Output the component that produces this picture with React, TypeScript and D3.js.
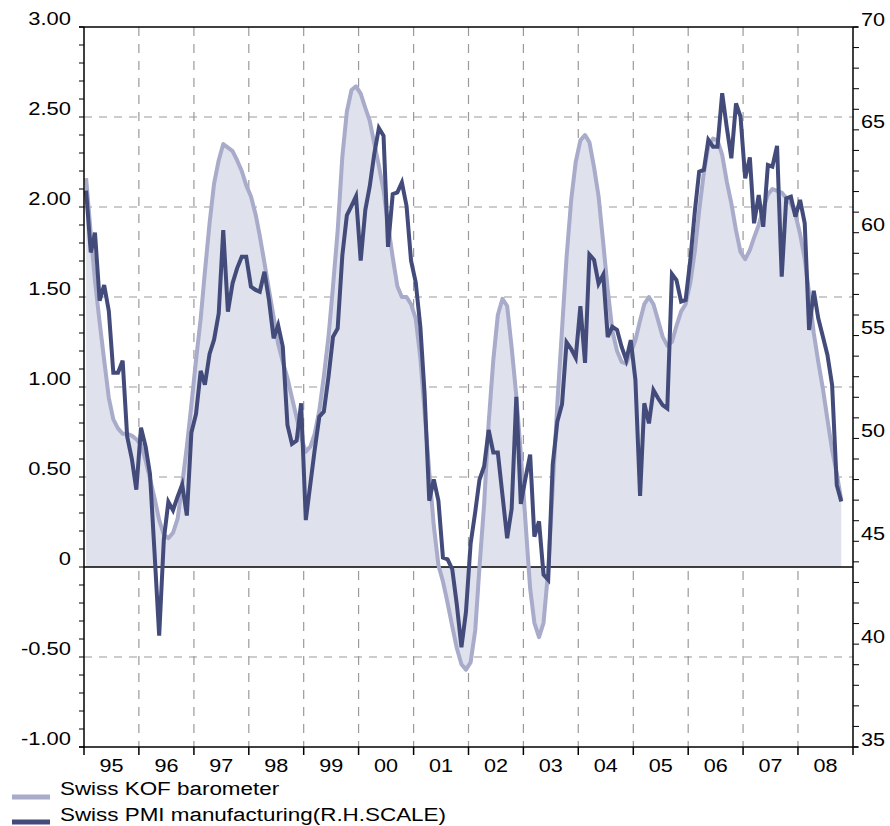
import React from "react";
import * as d3 from "d3";

// ---- data (monthly, starting January 1995) ----
const startYear = 1995;
const yearLabels = ["95","96","97","98","99","00","01","02","03","04","05","06","07","08"];

// Swiss KOF barometer (left scale)
const kof = [
  2.16,1.85,1.59,1.36,1.15,0.94,0.82,0.77,0.74,0.74,0.73,0.71, // 1995
  0.68,0.59,0.49,0.38,0.26,0.18,0.16,0.19,0.27,0.46,0.67,0.90, // 1996
  1.15,1.38,1.64,1.91,2.13,2.26,2.35,2.33,2.31,2.26,2.20,2.12, // 1997
  2.06,1.96,1.84,1.69,1.54,1.39,1.24,1.14,1.05,0.94,0.83,0.72, // 1998
  0.64,0.67,0.74,0.87,1.06,1.28,1.56,1.87,2.28,2.53,2.65,2.67, // 1999
  2.63,2.55,2.48,2.35,2.23,2.09,1.90,1.72,1.56,1.50,1.50,1.46, // 2000
  1.38,1.16,0.86,0.53,0.23,0.01,-0.08,-0.20,-0.33,-0.45,-0.54,-0.57, // 2001
  -0.53,-0.35,0.0,0.35,0.80,1.15,1.40,1.49,1.45,1.22,0.95,0.63, // 2002
  0.25,-0.12,-0.31,-0.39,-0.31,-0.02,0.44,0.91,1.32,1.72,2.04,2.25, // 2003
  2.37,2.40,2.36,2.22,2.06,1.80,1.54,1.31,1.20,1.14,1.13,1.19, // 2004
  1.26,1.37,1.46,1.50,1.46,1.37,1.28,1.23,1.25,1.34,1.42,1.46, // 2005
  1.58,1.76,1.98,2.19,2.34,2.38,2.37,2.29,2.14,2.02,1.87,1.75, // 2006
  1.71,1.76,1.83,1.90,1.99,2.07,2.10,2.09,2.08,2.05,2.02,1.96, // 2007
  1.85,1.71,1.52,1.30,1.14,0.99,0.82,0.65,0.52,0.37 // 2008
];

// Swiss PMI manufacturing (right scale)
const pmi = [
  62.05,59.04,60.0,56.70,57.45,56.20,53.19,53.19,53.78,50.10,49.01,47.51, // 1995
  50.52,49.60,48.26,44.33,40.41,45.09,46.92,46.51,47.18,47.76,46.25,50.27, // 1996
  51.19,53.28,52.61,54.11,54.80,56.08,60.13,56.16,57.54,58.27,58.83,58.83, // 1997
  57.38,57.22,57.13,58.10,56.73,54.87,55.51,54.46,50.65,49.73,49.89,51.71, // 1998
  46.03,47.82,49.44,51.06,51.30,53.00,54.94,55.35,58.90,60.84,61.30,61.77, // 1999
  58.64,61.11,62.25,63.86,65.09,64.71,59.31,61.87,61.96,62.44,61.30,58.64, // 2000
  57.59,55.41,52.18,46.97,48.01,46.97,44.21,44.12,43.64,41.94,39.85,41.56, // 2001
  44.88,46.44,47.99,48.65,50.41,49.32,49.32,47.24,45.15,46.58,52.02,46.82, // 2002
  48.07,49.21,45.22,45.97,43.38,43.13,48.73,50.83,51.66,54.67,54.34,53.92, // 2003
  56.43,53.67,58.94,58.68,57.52,57.96,54.93,55.43,55.27,54.46,53.81,54.78, // 2004
  52.84,47.20,51.71,50.73,52.35,51.95,51.62,51.46,57.99,57.70,56.65,56.73, // 2005
  58.67,61.10,62.97,63.05,64.51,64.18,64.18,66.78,65.10,63.62,66.29,65.64, // 2006
  62.64,63.66,60.46,61.83,60.29,63.29,63.21,64.22,57.86,61.67,61.75,60.78, // 2007
  61.59,60.46,55.27,57.18,55.84,54.94,54.06,52.60,47.74,46.93 // 2008
];

const leftTickValues = [-1, -0.5, 0, 0.5, 1, 1.5, 2, 2.5, 3];
const leftTickLabels = ["-1.00", "-0.50", "0", "0.50", "1.00", "1.50", "2.00", "2.50", "3.00"];
const rightTickValues = [35, 40, 45, 50, 55, 60, 65, 70];
const legendLabels = ["Swiss KOF barometer", "Swiss PMI manufacturing(R.H.SCALE)"];

// ---- styles ----
const KOF_LINE = "#a8abca";
const KOF_FILL = "#dfe1ec";
const PMI_LINE = "#434b7b";
const GRID = "#9a9a9a";
const FONT = "'Liberation Sans', Arial, Helvetica, sans-serif";

export default function App() {
  const W = 890, H = 826;
  const L = 84, R = 853, T = 27, B = 747;

  const x = d3.scaleTime()
    .domain([new Date(startYear, 0, 1), new Date(startYear + yearLabels.length, 0, 1)])
    .range([L, R]);
  const yL = d3.scaleLinear().domain([-1, 3]).range([B, T]);
  const yR = d3.scaleLinear().domain([35, 70]).range([B, T]);

  const dates = kof.map((_, i) => new Date(startYear, i, 15));
  const pmiDates = pmi.map((_, i) => new Date(startYear, i, 15));

  const area = d3.area<number>()
    .x((_, i) => x(dates[i]))
    .y0(yL(0))
    .y1((d) => yL(d));
  const kofLine = d3.line<number>().x((_, i) => x(dates[i])).y((d) => yL(d));
  const pmiLine = d3.line<number>().x((_, i) => x(pmiDates[i])).y((d) => yR(d));

  const yearStarts = yearLabels.map((_, i) => new Date(startYear + i, 0, 1));
  const minorLeft = d3.range(-10, 31).map((v) => v / 10);
  const minorRight = d3.range(35, 71);
  const hGrid = [2.5, 2, 1.5, 1, 0.5, -0.5];

  return (
    <svg width={W} height={H} style={{ position: "absolute", left: 0, top: 0, background: "#fff" }}
      fontFamily={FONT}>
      {/* vertical dashed grid */}
      {yearStarts.slice(1).map((d, i) => (
        <line key={"vg" + i} x1={x(d)} x2={x(d)} y1={T} y2={B}
          stroke={GRID} strokeWidth={1.2} strokeDasharray="9,8" />
      ))}
      {/* horizontal dashed grid */}
      {hGrid.map((v, i) => (
        <line key={"hg" + i} x1={L} x2={R} y1={yL(v)} y2={yL(v)}
          stroke={GRID} strokeWidth={1.2} strokeDasharray="8,7" />
      ))}

      {/* KOF area */}
      <path d={area(kof) || ""} fill={KOF_FILL} stroke="none" />

      {/* zero line */}
      <line x1={L} x2={R} y1={yL(0)} y2={yL(0)} stroke="#000" strokeWidth={1.3} />

      {/* KOF line */}
      <path d={kofLine(kof) || ""} fill="none" stroke={KOF_LINE} strokeWidth={4} strokeLinejoin="round" />
      {/* PMI line */}
      <path d={pmiLine(pmi) || ""} fill="none" stroke={PMI_LINE} strokeWidth={4} strokeLinejoin="miter" />

      {/* frame */}
      <line x1={L} x2={L} y1={T} y2={B} stroke="#000" strokeWidth={1.5} />
      <line x1={R} x2={R} y1={T} y2={B} stroke="#000" strokeWidth={1.5} />
      <line x1={L - 5} x2={R + 5} y1={T} y2={T} stroke="#000" strokeWidth={1.5} />
      <line x1={L - 5} x2={R + 5} y1={B} y2={B} stroke="#000" strokeWidth={1.5} />

      {/* left minor ticks */}
      {minorLeft.map((v, i) => (
        <line key={"lt" + i} x1={L - 5} x2={L} y1={yL(v)} y2={yL(v)} stroke="#000" strokeWidth={1} />
      ))}
      {/* right minor ticks */}
      {minorRight.map((v, i) => (
        <line key={"rt" + i} x1={R} x2={R + 6} y1={yR(v)} y2={yR(v)} stroke="#000" strokeWidth={1} />
      ))}
      {/* bottom year ticks */}
      {yearStarts.concat([new Date(startYear + yearLabels.length, 0, 1)]).map((d, i) => (
        <line key={"bt" + i} x1={x(d)} x2={x(d)} y1={B} y2={B + 8} stroke="#000" strokeWidth={1.5} />
      ))}

      {/* left labels */}
      {leftTickValues.map((v, i) => (
        <text key={"ll" + i} transform={`translate(71,${yL(v) - 2}) scale(1.22,1)`}
          textAnchor="end" fontSize={18} fill="#000">{leftTickLabels[i]}</text>
      ))}
      {/* right labels */}
      {rightTickValues.map((v, i) => (
        <text key={"rl" + i} transform={`translate(861,${yR(v) - 1.5}) scale(1.2,1)`}
          textAnchor="start" fontSize={18} fill="#000">{String(v)}</text>
      ))}
      {/* year labels */}
      {yearStarts.map((d, i) => {
        const cx = (x(d) + x(new Date(startYear + i + 1, 0, 1))) / 2;
        return (
          <text key={"yl" + i} transform={`translate(${cx},772) scale(1.2,1)`}
            textAnchor="middle" fontSize={18} fill="#000">{yearLabels[i]}</text>
        );
      })}

      {/* legend */}
      {legendLabels.map((lab, i) => (
        <g key={"lg" + i}>
          <line x1={12} x2={50} y1={797 + i * 25} y2={797 + i * 25}
            stroke={i === 0 ? KOF_LINE : PMI_LINE} strokeWidth={5} />
          <text transform={`translate(60,${795 + i * 26}) scale(1.18,1)`} fontSize={19} fill="#000">{lab}</text>
        </g>
      ))}
    </svg>
  );
}
